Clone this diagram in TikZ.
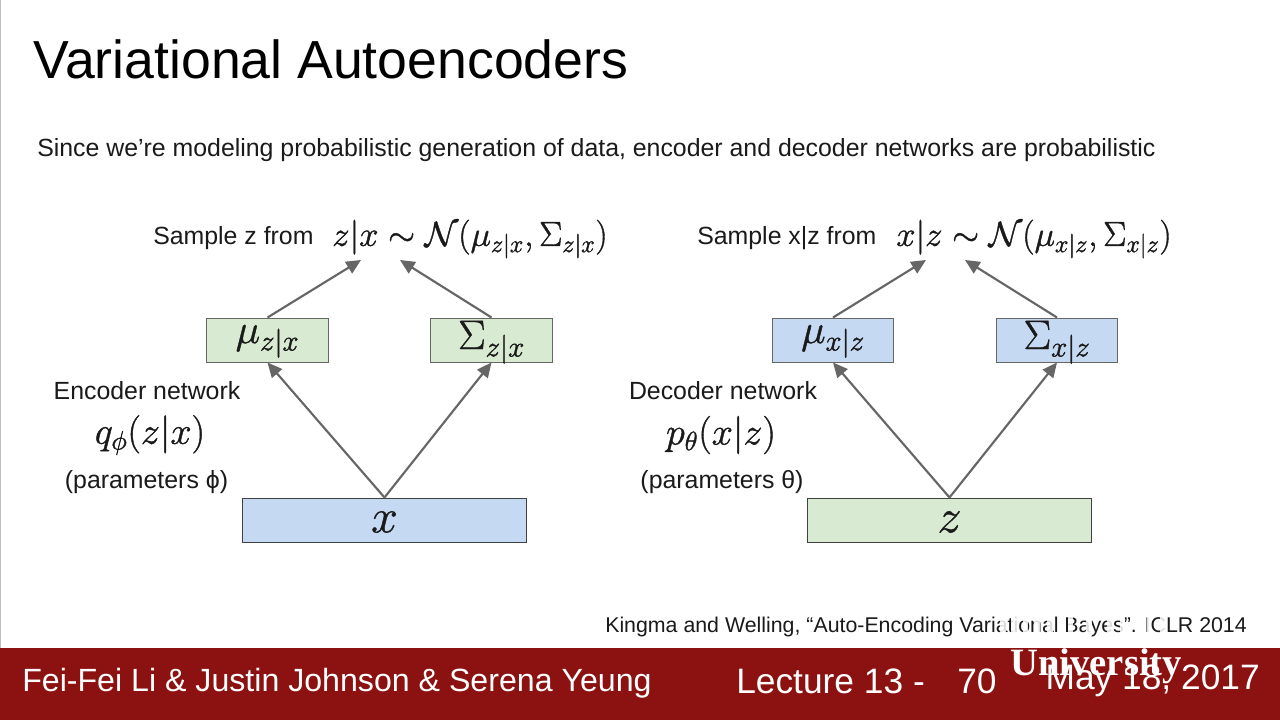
\RequirePackage{fix-cm}
\documentclass[tikz,border=0pt]{standalone}
\usepackage[no-math]{fontspec}
\setmainfont{Liberation Sans}
\newfontfamily\serifuni{Liberation Serif}
\usetikzlibrary{arrows.meta}
\definecolor{bargred}{HTML}{8B1210}
\definecolor{boxgreen}{HTML}{D9EAD3}
\definecolor{boxblue}{HTML}{C5D9F3}
\definecolor{arrowgray}{HTML}{666666}
\definecolor{inkblack}{HTML}{1A1A1A}
\tikzset{
  x=0.75pt,y=-0.75pt,
  heavy/.style={execute at begin node={\special{pdf:code 2 Tr 0.3 w}},execute at end node={\special{pdf:code 0 Tr 1 w}}},
  txt/.style={inner sep=0pt,text=inkblack,font=\fontsize{18.65}{22}\selectfont},
  mathlbl/.style={heavy,inner sep=0pt,text=inkblack,font=\fontsize{26}{30}\selectfont},
  qlbl/.style={heavy,inner sep=0pt,text=inkblack,font=\fontsize{28.5}{32}\selectfont},
  panel/.style={heavy,draw=arrowgray,line width=0.75pt,inner sep=0pt,minimum width=91pt,minimum height=33pt,text=inkblack,font=\fontsize{31}{36}\selectfont},
  gbox/.style={panel,fill=boxgreen},
  bbox/.style={panel,fill=boxblue},
  mubase/.style={text height=8pt,text depth=3.5pt},
  sigbase/.style={text height=15pt,text depth=1.5pt},
  wide/.style={minimum width=213.5pt,draw=black!75,font=\fontsize{36}{40}\selectfont,text height=19.5pt,text depth=1pt},
  conn/.style={draw=arrowgray,line width=1.6pt,-{Triangle[length=11pt,width=10pt]}},
  foot/.style={inner sep=0pt,text=white,font=\fontsize{24.1}{28}\selectfont},
  footb/.style={inner sep=0pt,text=white,font=\fontsize{26.5}{30}\selectfont},
  ghost/.style={fill=white,opacity=0.85}
}
\begin{document}
\begin{tikzpicture}
\useasboundingbox (0,0) rectangle (1280,720);
\fill[white] (0,0) rectangle (1280,720);
\draw[black!25,line width=0.75pt] (0.5,0) -- (0.5,648);
\fill[bargred] (0,648) rectangle (1280,720);
\node[anchor=west,inner sep=0pt,text=black,font=\fontsize{40.2}{46}\selectfont] (title) at (33,59) {Variational Autoencoders};
\node[txt,anchor=west] (sub) at (37,150) {Since we’re modeling probabilistic generation of data, encoder and decoder networks are probabilistic};

% encoder
\node[txt,anchor=west] (s1) at (153,238) {Sample z from};
\node[mathlbl,anchor=west] (d1) at (332,239) {$z|x \sim \mathcal{N}(\mu_{z|x},\Sigma_{z|x})$};
\coordinate (t1a) at (361,260);
\coordinate (t1b) at (400,260);
\node[gbox,mubase] (m1) at (267.5,340) {$\mu_{z|x}$};
\node[gbox,sigbase] (v1) at (491.5,340) {$\Sigma_{z|x}$};
\node[bbox,wide] (x) at (384.5,520) {$x$};
\draw[conn] (m1.north) -- (t1a);
\draw[conn] (v1.north) -- (t1b);
\draw[conn] (x.north) -- (m1.south);
\draw[conn] (x.north) -- (v1.south);
\node[txt] (e1) at (147,391) {Encoder network};
\node[qlbl] (q) at (150,435) {$q_\phi(z|x)$};
\node[txt] (p1) at (146.5,482.5) {(parameters ϕ)};

% decoder
\node[txt,anchor=west] (s2) at (697,238) {Sample x|z from};
\node[mathlbl,anchor=west] (d2) at (896,239) {$x|z \sim \mathcal{N}(\mu_{x|z},\Sigma_{x|z})$};
\coordinate (t2a) at (926,260);
\coordinate (t2b) at (965,260);
\node[bbox,mubase] (m2) at (833,340) {$\mu_{x|z}$};
\node[bbox,sigbase] (v2) at (1057,340) {$\Sigma_{x|z}$};
\node[gbox,wide] (z) at (949.5,520) {$z$};
\draw[conn] (m2.north) -- (t2a);
\draw[conn] (v2.north) -- (t2b);
\draw[conn] (z.north) -- (m2.south);
\draw[conn] (z.north) -- (v2.south);
\node[txt] (e2) at (723,391) {Decoder network};
\node[qlbl] (p) at (721,435) {$p_\theta(x|z)$};
\node[txt] (p2) at (722,482.5) {(parameters θ)};

\node[anchor=west,inner sep=0pt,text=inkblack,font=\fontsize{16}{19}\selectfont] (cite) at (605,626.5) {Kingma and Welling, “Auto-Encoding Variational Bayes”. ICLR 2014};
% video artefact: the letters are washed out here
\foreach \a/\b in {1000/1006,1011/1018,1023/1028,1034/1040,1047/1053,1058/1064,1068/1073,1086/1092,1107/1113,1120/1125,1147/1150,1160/1165}
  \fill[ghost] (\a,615) rectangle (\b,636);

\node[foot,anchor=west] (f1) at (22,683) {Fei-Fei Li \& Justin Johnson \& Serena Yeung};
\node[footb,anchor=west] (f2) at (736,681) {Lecture 13 -};
\node[footb,anchor=west] (f3) at (957,681) {70};
\node[footb,anchor=east] (f4) at (1260,681) {May 18, 2017};
\node[anchor=west,inner sep=0pt,text=white,font=\serifuni\bfseries\fontsize{29}{34}\selectfont] (uni) at (1010,666) {University};
\end{tikzpicture}
\end{document}
